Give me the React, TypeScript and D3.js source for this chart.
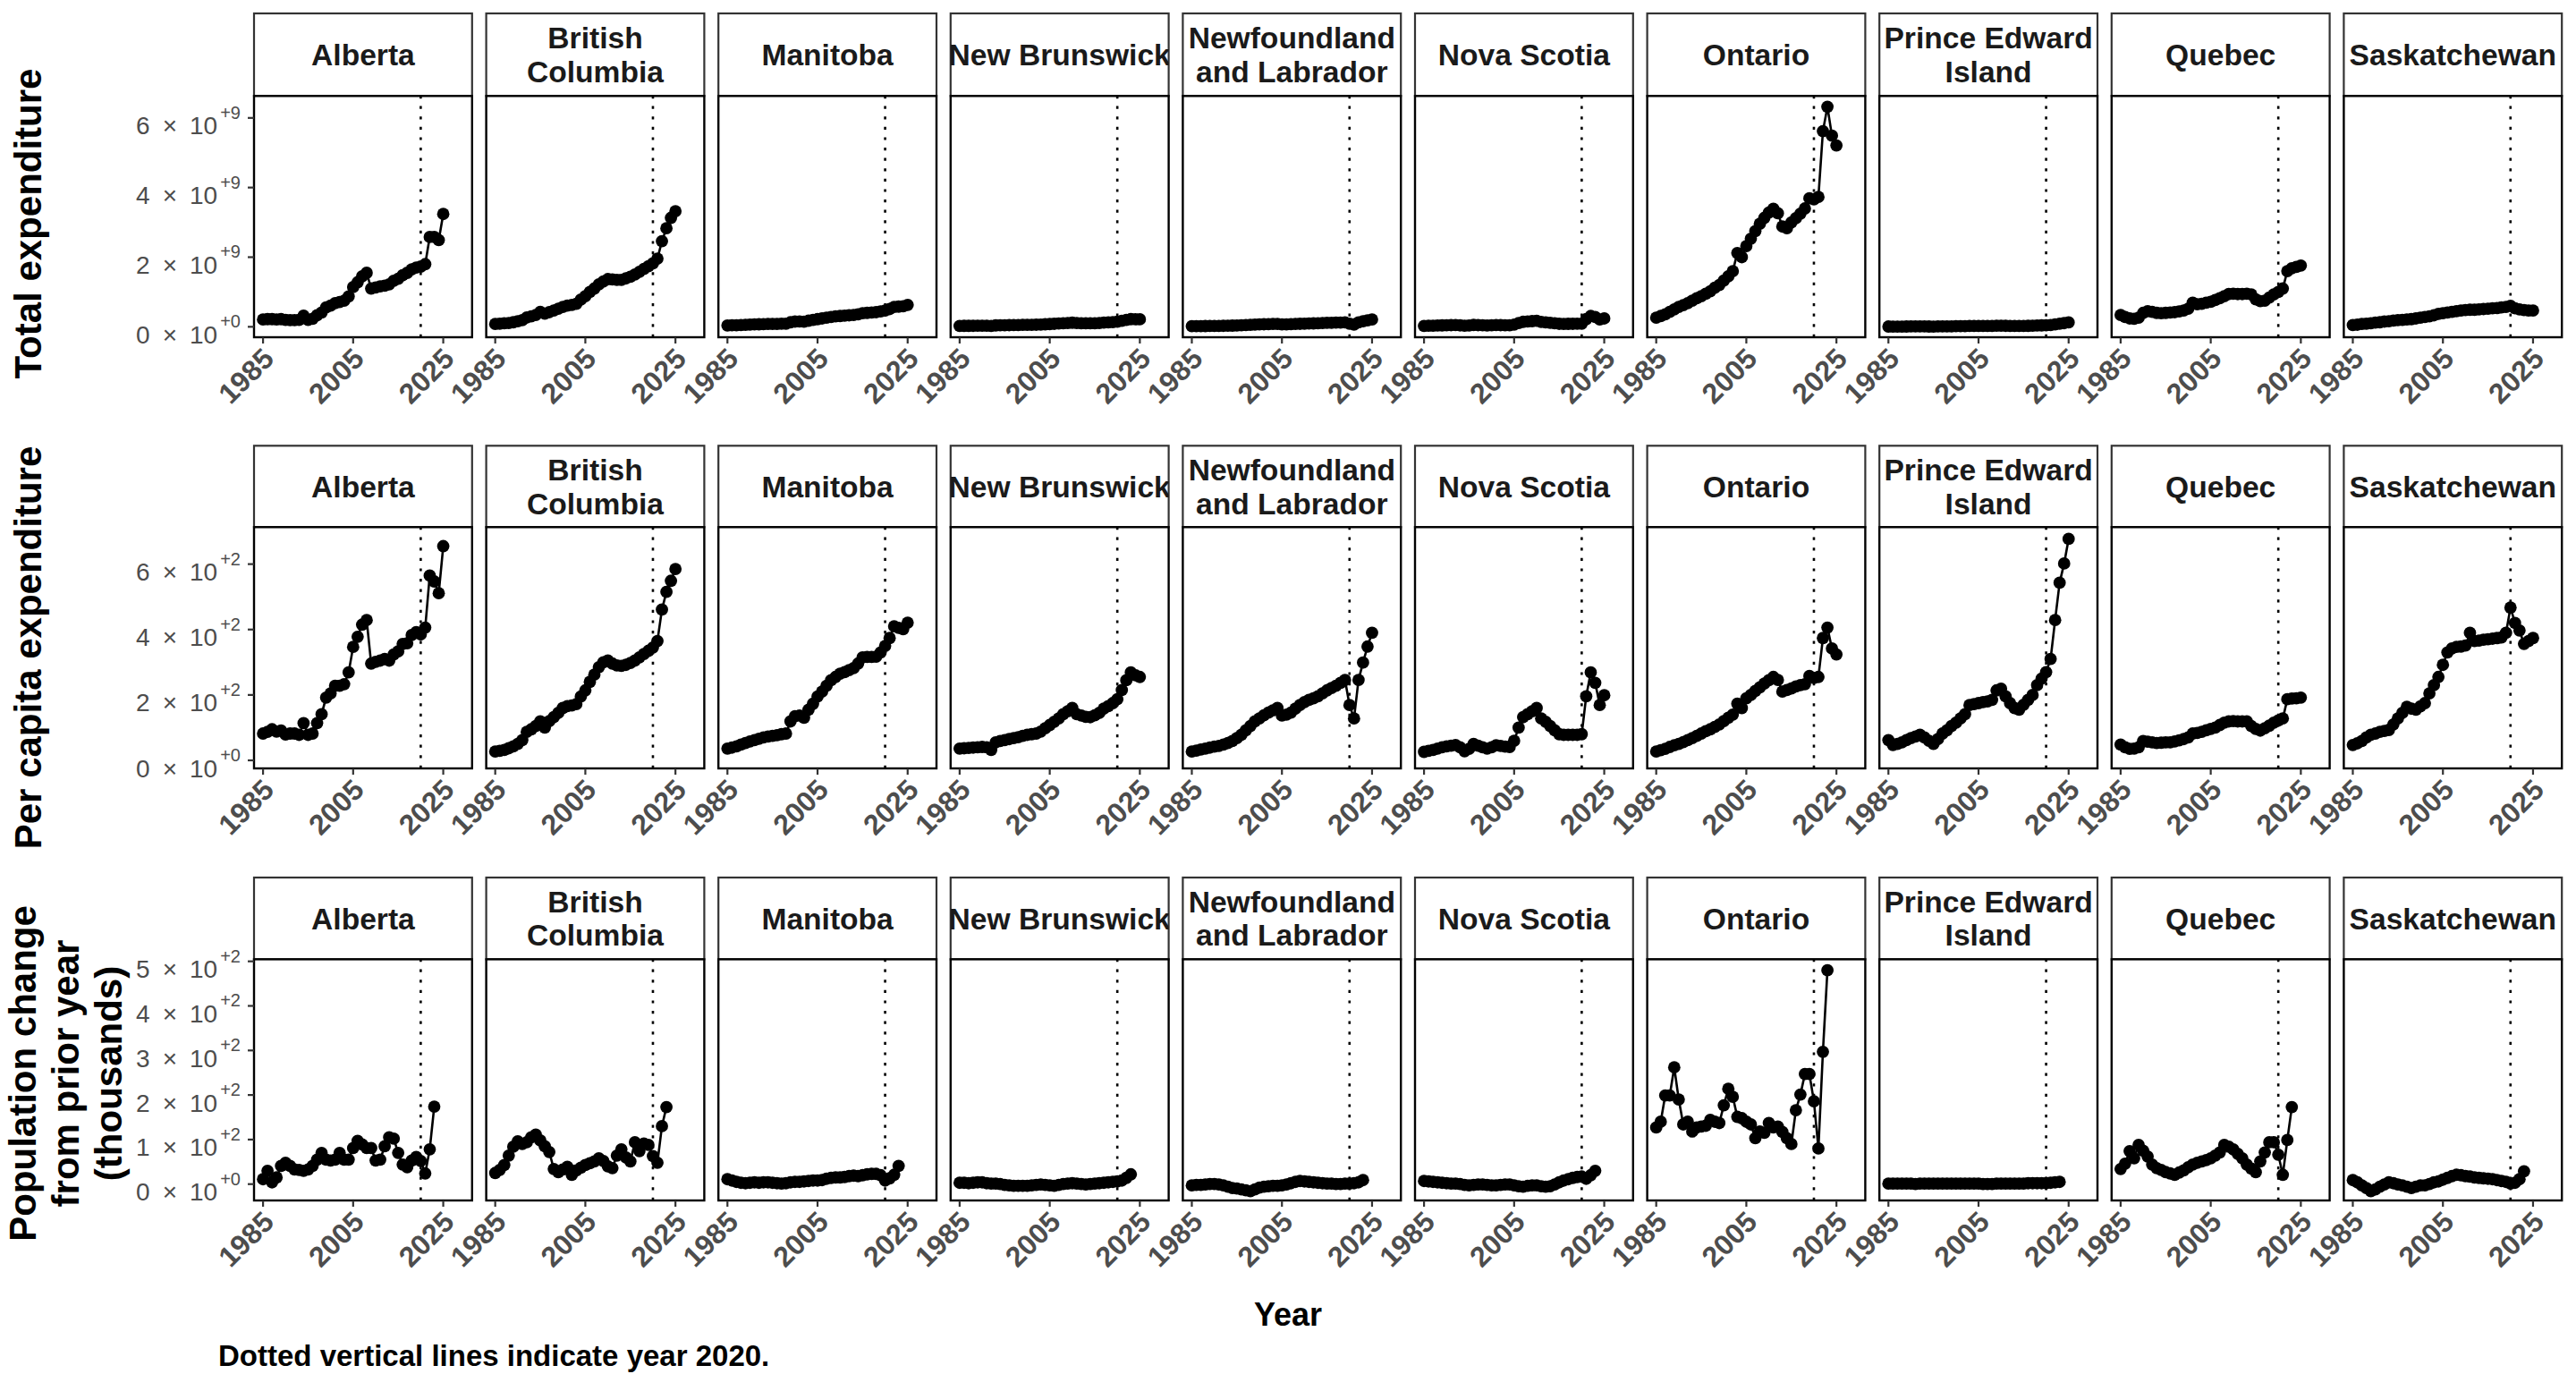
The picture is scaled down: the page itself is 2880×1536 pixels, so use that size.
import React from "react";
import * as d3 from "d3";

// ---------------- data ----------------
const provinces = [
  "Alberta", "British Columbia", "Manitoba", "New Brunswick", "Newfoundland and Labrador",
  "Nova Scotia", "Ontario", "Prince Edward Island", "Quebec", "Saskatchewan",
];
const stripLabels = [
  ["Alberta"], ["British", "Columbia"], ["Manitoba"], ["New Brunswick"], ["Newfoundland", "and Labrador"],
  ["Nova Scotia"], ["Ontario"], ["Prince Edward", "Island"], ["Quebec"], ["Saskatchewan"],
];

const expYears = [1985, 1986, 1987, 1988, 1989, 1990, 1991, 1992, 1993, 1994, 1995, 1996, 1997, 1998, 1999,
  2000, 2001, 2002, 2003, 2004, 2005, 2006, 2007, 2008, 2009, 2010, 2011, 2012, 2013, 2014, 2015, 2016, 2017,
  2018, 2019, 2020, 2021, 2022, 2023, 2024, 2025];
const popYears = [1985, 1986, 1987, 1988, 1989, 1990, 1991, 1992, 1993, 1994, 1995, 1996, 1997, 1998, 1999,
  2000, 2001, 2002, 2003, 2004, 2005, 2006, 2007, 2008, 2009, 2010, 2011, 2012, 2013, 2014, 2015, 2016, 2017,
  2018, 2019, 2020, 2021, 2022, 2023];

// Total expenditure (billions of dollars; axis shows x 10^9)
const totalAlberta = [0.21, 0.22, 0.22, 0.21, 0.22, 0.20, 0.19, 0.19, 0.20, 0.32, 0.20, 0.23, 0.33, 0.41, 0.56, 0.61, 0.68, 0.71, 0.75, 0.87, 1.14, 1.28, 1.45, 1.55, 1.10, 1.13, 1.16, 1.18, 1.22, 1.32, 1.38, 1.48, 1.55, 1.65, 1.70, 1.73, 1.80, 2.58, 2.58, 2.49, 3.24];
const totalBC = [0.08, 0.09, 0.10, 0.11, 0.13, 0.16, 0.19, 0.27, 0.30, 0.34, 0.43, 0.38, 0.42, 0.47, 0.52, 0.57, 0.61, 0.63, 0.66, 0.78, 0.88, 1.00, 1.10, 1.22, 1.30, 1.37, 1.36, 1.35, 1.35, 1.39, 1.44, 1.50, 1.58, 1.66, 1.74, 1.82, 1.96, 2.46, 2.83, 3.13, 3.32];
const totalManitoba = [0.039, 0.042, 0.046, 0.052, 0.057, 0.063, 0.067, 0.072, 0.076, 0.080, 0.082, 0.084, 0.088, 0.090, 0.13, 0.15, 0.155, 0.147, 0.175, 0.196, 0.22, 0.24, 0.26, 0.28, 0.30, 0.31, 0.32, 0.33, 0.34, 0.36, 0.39, 0.40, 0.41, 0.42, 0.44, 0.47, 0.51, 0.57, 0.58, 0.59, 0.63];
const totalNB = [0.026, 0.027, 0.027, 0.028, 0.029, 0.030, 0.029, 0.023, 0.040, 0.043, 0.045, 0.047, 0.049, 0.052, 0.055, 0.057, 0.058, 0.060, 0.064, 0.072, 0.079, 0.086, 0.093, 0.103, 0.110, 0.117, 0.106, 0.103, 0.100, 0.099, 0.104, 0.109, 0.119, 0.126, 0.135, 0.146, 0.170, 0.197, 0.220, 0.218, 0.215];
const totalNL = [0.016, 0.017, 0.019, 0.021, 0.023, 0.024, 0.025, 0.028, 0.031, 0.034, 0.039, 0.044, 0.051, 0.057, 0.064, 0.068, 0.073, 0.076, 0.080, 0.083, 0.070, 0.071, 0.074, 0.080, 0.086, 0.091, 0.095, 0.098, 0.103, 0.108, 0.113, 0.116, 0.119, 0.123, 0.128, 0.088, 0.066, 0.128, 0.158, 0.187, 0.213];
const totalNS = [0.026, 0.030, 0.032, 0.037, 0.040, 0.044, 0.047, 0.049, 0.041, 0.029, 0.037, 0.053, 0.047, 0.043, 0.038, 0.043, 0.048, 0.047, 0.045, 0.044, 0.064, 0.108, 0.143, 0.152, 0.162, 0.174, 0.139, 0.128, 0.114, 0.100, 0.086, 0.084, 0.085, 0.086, 0.087, 0.090, 0.22, 0.31, 0.28, 0.21, 0.24];
const totalOntario = [0.26, 0.31, 0.36, 0.43, 0.50, 0.57, 0.62, 0.68, 0.75, 0.82, 0.88, 0.95, 1.02, 1.12, 1.20, 1.33, 1.45, 1.60, 2.12, 2.00, 2.32, 2.53, 2.75, 2.96, 3.13, 3.28, 3.39, 3.26, 2.88, 2.83, 3.00, 3.12, 3.25, 3.40, 3.69, 3.66, 3.73, 5.62, 6.32, 5.49, 5.21];
const totalPEI = [0.008, 0.006, 0.007, 0.007, 0.008, 0.009, 0.010, 0.011, 0.010, 0.008, 0.007, 0.009, 0.011, 0.013, 0.014, 0.016, 0.017, 0.019, 0.023, 0.023, 0.024, 0.024, 0.025, 0.025, 0.030, 0.031, 0.028, 0.025, 0.023, 0.022, 0.024, 0.027, 0.030, 0.035, 0.040, 0.043, 0.050, 0.070, 0.090, 0.105, 0.125];
const totalQuebec = [0.34, 0.28, 0.24, 0.23, 0.26, 0.40, 0.45, 0.43, 0.40, 0.39, 0.40, 0.41, 0.42, 0.44, 0.47, 0.52, 0.69, 0.65, 0.66, 0.69, 0.72, 0.77, 0.82, 0.88, 0.94, 0.95, 0.94, 0.94, 0.95, 0.93, 0.79, 0.74, 0.75, 0.84, 0.93, 1.00, 1.10, 1.60, 1.68, 1.72, 1.76];
const totalSask = [0.05, 0.06, 0.08, 0.09, 0.10, 0.12, 0.13, 0.15, 0.16, 0.18, 0.19, 0.20, 0.21, 0.22, 0.24, 0.26, 0.28, 0.30, 0.33, 0.37, 0.39, 0.41, 0.43, 0.45, 0.47, 0.48, 0.49, 0.49, 0.50, 0.51, 0.52, 0.53, 0.54, 0.56, 0.57, 0.60, 0.53, 0.50, 0.48, 0.47, 0.47];

// Per capita expenditure (dollars)
const pcAlberta = [82, 87, 95, 88, 91, 79, 82, 82, 78, 114, 78, 82, 114, 141, 192, 205, 228, 228, 233, 269, 347, 378, 415, 429, 296, 301, 305, 310, 305, 324, 333, 356, 358, 383, 392, 385, 406, 565, 547, 511, 655];
const pcBC = [27, 29, 32, 37, 43, 50, 62, 87, 95, 105, 119, 100, 120, 132, 145, 160, 166, 168, 172, 195, 214, 240, 262, 285, 300, 305, 296, 290, 289, 292, 298, 305, 315, 325, 335, 345, 365, 461, 515, 549, 585];
const pcManitoba = [36, 39, 43, 48, 53, 58, 62, 66, 70, 73, 75, 77, 80, 82, 119, 135, 137, 130, 155, 173, 195, 210, 228, 245, 255, 265, 270, 276, 282, 296, 315, 316, 316, 317, 330, 350, 374, 410, 405, 401, 421];
const pcNB = [36, 37, 38, 39, 40, 41, 40, 32, 55, 59, 62, 65, 68, 71, 75, 78, 80, 82, 88, 98, 108, 118, 128, 141, 150, 160, 141, 137, 133, 132, 138, 145, 158, 166, 175, 187, 215, 245, 269, 260, 255];
const pcNL = [27, 30, 33, 36, 39, 42, 44, 48, 53, 59, 68, 78, 92, 105, 119, 128, 138, 146, 153, 160, 137, 140, 146, 158, 169, 178, 185, 190, 196, 205, 214, 221, 228, 237, 246, 169, 128, 246, 299, 348, 390];
const pcNS = [26, 29, 32, 36, 40, 43, 45, 47, 40, 28, 35, 50, 45, 40, 36, 40, 46, 44, 42, 41, 60, 100, 132, 141, 150, 160, 128, 118, 105, 92, 80, 78, 78, 78, 78, 80, 196, 269, 237, 169, 199];
const pcOntario = [27, 31, 35, 41, 46, 50, 56, 62, 68, 75, 82, 89, 95, 102, 110, 120, 130, 140, 173, 160, 190, 200, 212, 223, 235, 245, 255, 246, 210, 215, 220, 226, 230, 233, 258, 252, 255, 374, 406, 342, 324];
const pcPEI = [62, 47, 50, 55, 62, 68, 73, 78, 70, 60, 50, 65, 82, 92, 105, 115, 128, 141, 169, 172, 175, 178, 180, 185, 214, 219, 196, 175, 160, 155, 170, 185, 200, 230, 250, 270, 310, 429, 543, 602, 677];
const pcQuebec = [48, 40, 35, 36, 40, 59, 57, 55, 53, 54, 55, 55, 58, 61, 65, 70, 82, 84, 87, 92, 96, 100, 108, 115, 119, 120, 119, 119, 119, 105, 96, 91, 98, 106, 115, 122, 128, 187, 189, 190, 192];
const pcSask = [47, 52, 59, 70, 78, 82, 87, 90, 93, 110, 128, 145, 164, 158, 155, 165, 175, 205, 230, 255, 292, 330, 342, 347, 348, 351, 390, 365, 366, 369, 370, 372, 374, 376, 390, 467, 420, 397, 356, 365, 374];

// Population change from prior year (thousands)
const popAlberta = [11, 30, 4, 15, 41, 48, 41, 33, 32, 30, 33, 41, 55, 70, 55, 53, 55, 70, 55, 55, 81, 97, 89, 81, 81, 53, 55, 85, 105, 102, 70, 44, 38, 53, 61, 52, 24, 78, 174];
const popBC = [25, 32, 43, 64, 84, 96, 90, 94, 105, 111, 98, 85, 72, 34, 27, 33, 39, 21, 31, 37, 43, 47, 51, 58, 52, 40, 36, 64, 78, 60, 51, 94, 74, 91, 88, 63, 48, 130, 173];
const popManitoba = [11, 8, 5, 3, 2, 3, 4, 3, 4, 4, 3, 2, 1, 2, 4, 5, 5, 6, 7, 8, 8, 9, 12, 14, 15, 15, 16, 18, 19, 18, 20, 22, 23, 23, 20, 8, 13, 21, 41];
const popNB = [3, 3, 2, 3, 4, 4, 2, 1, 1, 0, -2, -3, -4, -4, -4, -4, -3, -2, -1, -2, -3, -4, -2, 0, 1, 2, 1, 0, -1, 0, 1, 2, 3, 4, 5, 6, 8, 14, 22];
const popNL = [-3, -2, -2, -1, 0, 0, -1, -3, -6, -9, -10, -12, -14, -16, -12, -8, -6, -5, -4, -4, -3, -1, 2, 5, 7, 6, 5, 4, 3, 2, 1, 1, 0, 0, 1, 1, 2, 4, 9];
const popNS = [7, 6, 5, 4, 3, 2, 1, 1, 0, -2, -3, -2, -1, -1, -2, -3, -3, -2, -1, -1, -3, -5, -6, -4, -3, -3, -5, -6, -5, -1, 4, 8, 11, 14, 16, 17, 12, 20, 30];
const popOntario = [127, 140, 199, 199, 262, 190, 134, 140, 118, 127, 129, 131, 144, 140, 137, 177, 214, 196, 151, 148, 140, 134, 103, 118, 115, 137, 127, 129, 117, 103, 90, 166, 201, 247, 247, 186, 80, 297, 480];
const popPEI = [1, 1, 1, 1, 1, 1, 0, 1, 1, 1, 1, 1, 1, 1, 1, 1, 1, 1, 1, 1, 1, 0, 0, 0, 1, 1, 1, 1, 1, 1, 1, 2, 2, 2, 2, 2, 3, 4, 5];
const popQuebec = [34, 46, 74, 58, 88, 75, 62, 44, 36, 32, 27, 24, 21, 26, 31, 38, 44, 48, 51, 54, 58, 64, 71, 88, 84, 78, 68, 58, 44, 35, 27, 51, 71, 94, 94, 66, 21, 99, 173];
const popSask = [9, 4, -3, -9, -16, -12, -6, -1, 4, 2, -1, -3, -6, -9, -6, -3, -3, 0, 4, 6, 10, 14, 18, 21, 20, 18, 17, 15, 14, 13, 12, 11, 9, 7, 5, 1, 3, 11, 29];

const xTicks = [1985, 2005, 2025];
const markerYear = 2020;

// y-axis tick labels: value, mantissa, exponent
const totalTicks = [[0, "0", "+0"], [2, "2", "+9"], [4, "4", "+9"], [6, "6", "+9"]];
const pcTicks = [[0, "0", "+0"], [200, "2", "+2"], [400, "4", "+2"], [600, "6", "+2"]];
const popTicks = [[0, "0", "+0"], [100, "1", "+2"], [200, "2", "+2"], [300, "3", "+2"], [400, "4", "+2"], [500, "5", "+2"]];

const rowTitles = [["Total expenditure"], ["Per capita expenditure"], ["Population change", "from prior year", "(thousands)"]];
const xTitle = "Year";
const caption = "Dotted vertical lines indicate year 2020.";

// ---------------- layout ----------------
const W = 2880;
const H = 1536;
const LEFT0 = 284;
const PITCH = 259.6;
const PW = 243.8;
const FONT = "'Liberation Sans', Arial, Helvetica, sans-serif";

const rows = [
  { stripTop: 15, top: 107.3, bottom: 377, years: expYears, domain: [-0.30, 6.63], ticks: totalTicks, titleY: 250,
    series: [totalAlberta, totalBC, totalManitoba, totalNB, totalNL, totalNS, totalOntario, totalPEI, totalQuebec, totalSask] },
  { stripTop: 498.3, top: 589.3, bottom: 859, years: expYears, domain: [-24.6, 713], ticks: pcTicks, titleY: 724,
    series: [pcAlberta, pcBC, pcManitoba, pcNB, pcNL, pcNS, pcOntario, pcPEI, pcQuebec, pcSask] },
  { stripTop: 981, top: 1072.4, bottom: 1342, years: popYears, domain: [-36.7, 504.6], ticks: popTicks, titleY: 1200,
    series: [popAlberta, popBC, popManitoba, popNB, popNL, popNS, popOntario, popPEI, popQuebec, popSask] },
];

function Panel({ row, ri, ci }: any) {
  const x0 = LEFT0 + ci * PITCH;
  const x = d3.scaleLinear().domain([1983.0, 2031.4]).range([x0, x0 + PW]);
  const y = d3.scaleLinear().domain(row.domain).range([row.bottom, row.top]);
  const vals: number[] = row.series[ci];
  const pts = row.years.map((yr: number, i: number) => [yr, vals[i]] as [number, number]);
  const line = d3.line<[number, number]>().x((d) => x(d[0])).y((d) => y(d[1]));
  const clipId = `strip-${ri}-${ci}`;
  const lines = stripLabels[ci];
  const stripMid = (row.stripTop + row.top) / 2;
  return (
    <g>
      <defs>
        <clipPath id={clipId}>
          <rect x={x0} y={row.stripTop} width={PW} height={row.top - row.stripTop} />
        </clipPath>
      </defs>
      <rect x={x0} y={row.stripTop} width={PW} height={row.top - row.stripTop} fill="white" stroke="#333333" strokeWidth={2.2} />
      <g clipPath={`url(#${clipId})`}>
        {lines.map((t: string, li: number) => (
          <text key={li} x={x0 + PW / 2}
            y={stripMid + 12 + (li - (lines.length - 1) / 2) * 37.5}
            textAnchor="middle" fontFamily={FONT} fontWeight="bold" fontSize={33.6} fill="#1a1a1a">{t}</text>
        ))}
      </g>
      <rect x={x0} y={row.top} width={PW} height={row.bottom - row.top} fill="white" stroke="none" />
      <line x1={x(markerYear)} x2={x(markerYear)} y1={row.bottom} y2={row.top} stroke="black" strokeWidth={2.6} strokeDasharray="3.2 8.4" />
      <path d={line(pts) || ""} fill="none" stroke="black" strokeWidth={2.6} />
      {pts.map((d: [number, number], i: number) => (
        <circle key={i} cx={x(d[0])} cy={y(d[1])} r={6.9} fill="black" />
      ))}
      <rect x={x0} y={row.top} width={PW} height={row.bottom - row.top} fill="none" stroke="black" strokeWidth={2.4} />
      {xTicks.map((t) => (
        <g key={t}>
          <line x1={x(t)} x2={x(t)} y1={row.bottom} y2={row.bottom + 7} stroke="#333333" strokeWidth={2.2} />
          <text transform={`translate(${x(t) + 14},${row.bottom + 26}) rotate(-45)`} textAnchor="end"
            fontFamily={FONT} fontWeight="bold" fontSize={32} fill="#4d4d4d">{String(t)}</text>
        </g>
      ))}
      {ci === 0 && row.ticks.map((tk: any) => (
        <g key={tk[0]}>
          <line x1={x0 - 7} x2={x0} y1={y(tk[0])} y2={y(tk[0])} stroke="#333333" strokeWidth={2.2} />
          <text x={x0 - 15} y={y(tk[0]) + 18.5} textAnchor="end" fontFamily={FONT} fontSize={28} fill="#4d4d4d">
            <tspan>{tk[1] + "\u2002\u00d7\u200210"}</tspan>
            <tspan dx={3} dy={-17.5} fontSize={20}>{tk[2]}</tspan>
          </text>
        </g>
      ))}
    </g>
  );
}

export default function App() {
  return (
    <svg width={W} height={H} viewBox={`0 0 ${W} ${H}`} style={{ position: "absolute", left: 0, top: 0, background: "white" }}>
      <rect x={0} y={0} width={W} height={H} fill="white" />
      {rows.map((row, ri) => (
        <g key={ri}>
          {provinces.map((p, ci) => <Panel key={p} row={row} ri={ri} ci={ci} />)}
        </g>
      ))}
      {rows.map((row, ri) => {
        const lines = rowTitles[ri];
        const baseX = lines.length === 1 ? [46] : [40, 88, 136];
        return lines.map((t, li) => (
          <text key={`${ri}-${li}`} transform={`translate(${baseX[li]},${row.titleY}) rotate(-90)`} textAnchor="middle"
            fontFamily={FONT} fontWeight="bold" fontSize={42} fill="black">{t}</text>
        ));
      })}
      <text x={W / 2} y={1482} textAnchor="middle" fontFamily={FONT} fontWeight="bold" fontSize={36} fill="black">{xTitle}</text>
      <text x={244} y={1527} fontFamily={FONT} fontWeight="bold" fontSize={33} fill="black">{caption}</text>
    </svg>
  );
}
